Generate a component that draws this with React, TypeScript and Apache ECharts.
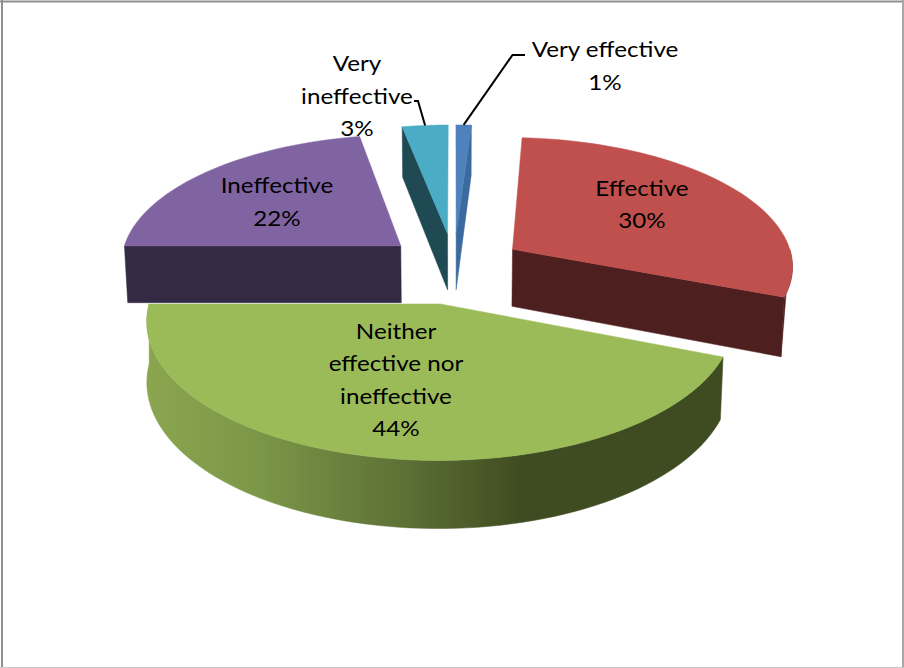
import React, { useEffect, useRef } from "react";
import * as echarts from "echarts";

const categories = ["Very effective", "Effective", "Neither effective nor ineffective", "Ineffective", "Very ineffective"];
const shares = [1, 30, 44, 22, 3];
const labelLines = [
  ["Very effective", "1%"],
  ["Effective", "30%"],
  ["Neither", "effective nor", "ineffective", "44%"],
  ["Ineffective", "22%"],
  ["Very", "ineffective", "3%"],
];
const topColors = ["#4f81bd", "#c0504d", "#9bbb59", "#8064a2", "#4bacc6"];
const wallColors = ["#3b6a9f", "#4e1f1f", "#3f4c21", "#352a45", "#1f4a54"];
// Painted from the far slices to the near ones.
const paintOrder = [4, 0, 3, 1, 2];
const labelCentres: number[][] = [[605, 65], [642, 203.5], [396, 379], [277, 201], [357, 95]];

const W = 904;
const H = 668;
const CX = 454;
const CY = 268;
const SCALE_X = 282;
const SCALE_Y = 129;
const PERSPECTIVE = 0.117;
const EXPLODE_X = 0.25;
const EXPLODE_Y = 0.275;
const DEPTH = 58;
const DEPTH_SHRINK = 0.01;
const TEXT_STRETCH = 1.1;

// Maps a point of the unit disc (y pointing away from the viewer), at depth z in 0..1, to the page.
function project(x: number, y: number, z: number, shrink = DEPTH_SHRINK): number[] {
  const w = 1 + PERSPECTIVE * y;
  const px = (SCALE_X * x) / w;
  const py = (-SCALE_Y * y) / w + (DEPTH * z) / w;
  return [CX + px * (1 - shrink * z), CY + py];
}

const deg = (d: number) => (d * Math.PI) / 180;

function sliceAngles(index: number): number[] {
  const total = shares.reduce((a, b) => a + b, 0);
  const before = shares.slice(0, index).reduce((a, b) => a + b, 0);
  return [(before / total) * 360, ((before + shares[index]) / total) * 360];
}

function sliceOffset(index: number): number[] {
  const [a0, a1] = sliceAngles(index);
  const mid = deg((a0 + a1) / 2);
  return [EXPLODE_X * Math.sin(mid), EXPLODE_Y * Math.cos(mid)];
}

function buildSlice(index: number) {
  const [a0, a1] = sliceAngles(index);
  const [ox, oy] = sliceOffset(index);
  // The big slice's left side drops straight down, so its lower rim keeps the full width there.
  const rimShrink = (a: number) => (index === 2 && a > 180 ? 0 : DEPTH_SHRINK);
  const rim = (a: number, z: number) =>
    project(ox + Math.sin(deg(a)), oy + Math.cos(deg(a)), z, rimShrink(a));
  const apex = (z: number) => project(ox, oy, z);

  const arc = (from: number, to: number, z: number) => {
    const pts: number[][] = [];
    const steps = Math.max(2, Math.ceil(Math.abs(to - from) / 2));
    for (let i = 0; i <= steps; i++) pts.push(rim(from + ((to - from) * i) / steps, z));
    return pts;
  };

  const children: any[] = [];
  const polygon = (points: number[][], fill: any) =>
    children.push({ type: "polygon", shape: { points }, style: { fill, stroke: fill, lineWidth: 0.5 } });

  // Cut faces that turn towards the viewer.
  if (index === 4 || index === 3) polygon([apex(0), rim(a0, 0), rim(a0, 1), apex(1)], wallColors[index]);
  if (index === 0 || index === 1) polygon([apex(0), rim(a1, 0), rim(a1, 1), apex(1)], wallColors[index]);

  // Outer rim on the near half of the disc.
  const from = Math.max(a0, 90);
  const to = Math.min(a1, 270);
  if (to > from) {
    const fill =
      index === 2
        ? new echarts.graphic.LinearGradient(0, 0, 1, 0, [
            { offset: 0, color: "#8ba64f" },
            { offset: 0.2, color: "#7a9647" },
            { offset: 0.43, color: "#5f7337" },
            { offset: 0.65, color: "#3f4c21" },
            { offset: 1, color: "#3f4c21" },
          ])
        : wallColors[index];
    // The short rim of the right-hand slice closes in a straight edge.
    const lower = index === 1 ? [rim(to, 1)] : arc(to, from, 1);
    polygon([...arc(from, to, 0), ...lower], fill);
  }

  polygon([apex(0), ...arc(a0, a1, 0)], topColors[index]);
  return children;
}

function labelElements(index: number) {
  const [x, y] = labelCentres[index];
  const lines = labelLines[index];
  const lineHeight = 32.5;
  return lines.map((line, i) => ({
    type: "text",
    z2: 10,
    x,
    y: y + (i - (lines.length - 1) / 2) * lineHeight,
    scaleX: TEXT_STRETCH,
    style: {
      x: 0,
      y: 0,
      text: line,
      fill: "#000",
      font: "22px Lato, sans-serif",
      align: "center",
      verticalAlign: "middle",
    },
  }));
}

// Leader lines for the two narrow slices whose labels sit outside the disc.
function leaderLine(index: number) {
  const [a0, a1] = sliceAngles(index);
  const mid = deg((a0 + a1) / 2);
  const [ox, oy] = sliceOffset(index);
  const end = project(ox + Math.sin(mid), oy + Math.cos(mid), 0);
  const elbow = index === 0 ? [[525, 55], [512.5, 55]] : [[414, 101], [418, 101]];
  return {
    type: "polyline",
    z2: 9,
    shape: { points: [...elbow, end] },
    style: { stroke: "#000", lineWidth: 2, fill: "none" },
  };
}

export default function App() {
  const ref = useRef<HTMLDivElement>(null);

  useEffect(() => {
    document.body.style.margin = "0";
    const chart = echarts.init(ref.current!, null, { renderer: "svg" });
    chart.setOption({
      animation: false,
      backgroundColor: "#fff",
      graphic: [
        { type: "line", shape: { x1: 0, y1: 1.5, x2: W, y2: 1.5 }, style: { stroke: "#909090", lineWidth: 2 } },
        { type: "line", shape: { x1: 2, y1: 0, x2: 2, y2: H }, style: { stroke: "#909090", lineWidth: 2 } },
        { type: "line", shape: { x1: W - 1, y1: 0, x2: W - 1, y2: H }, style: { stroke: "#a8a8a8", lineWidth: 2 } },
        { type: "line", shape: { x1: 0, y1: H - 0.5, x2: W, y2: H - 0.5 }, style: { stroke: "#c8c8c8", lineWidth: 1 } },
      ],
      series: [
        {
          type: "custom",
          coordinateSystem: "none",
          silent: true,
          data: paintOrder.map((i) => ({ name: categories[i], value: [i, shares[i]] })),
          renderItem: (_params: any, api: any) => {
            const index = api.value(0);
            const children = [...buildSlice(index), ...labelElements(index)];
            if (index === 0 || index === 4) children.push(leaderLine(index));
            return { type: "group", children };
          },
        },
      ],
    });
    return () => chart.dispose();
  }, []);

  return <div ref={ref} style={{ width: W, height: H, fontVariantLigatures: "none" }} />;
}
